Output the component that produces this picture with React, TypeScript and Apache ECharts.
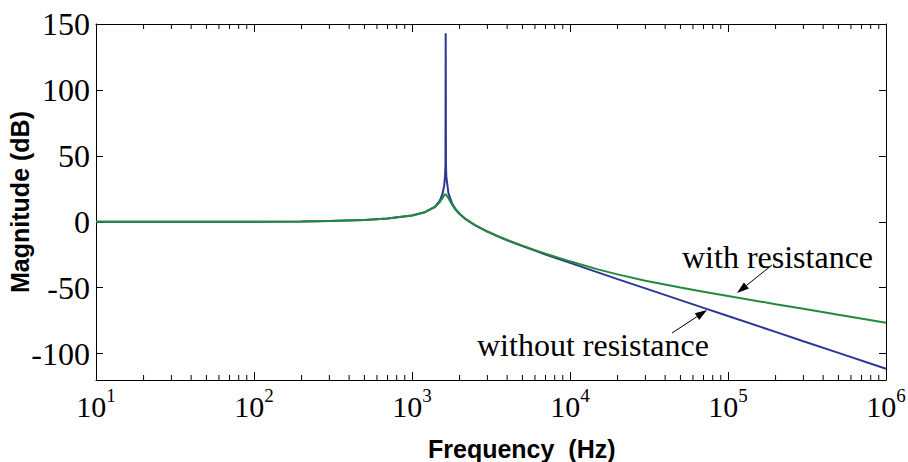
import React, { useEffect, useRef } from "react";
import * as echarts from "echarts";

// Frequency samples (Hz)
const freqs = [
  10, 100, 200, 300, 500, 700, 1000, 1200, 1400, 1500, 1560, 1600, 1620, 1628,
  1634, 1640, 1650, 1700, 1800, 1900, 2000, 2200, 2500, 3000, 3500, 4000, 5000,
  6000, 7000, 10000, 15000, 20000, 30000, 50000, 70000, 100000, 200000, 300000,
  500000, 1000000,
];

// Magnitude without resistance (dB)
const withoutResistance = [
  0, 0.03, 0.13, 0.5, 1.3, 2.4, 4.8, 7.2, 11.5, 16.1, 21.1, 27.7, 35.4, 42.7,
  143, 42.7, 34.1, 21.7, 13.4, 9.1, 6.1, 1.8, -2.6, -7.5, -11.1, -14.0, -18.5,
  -21.9, -24.8, -31.2, -38.4, -43.5, -50.5, -59.4, -65.3, -71.5, -83.5, -90.6,
  -99.4, -111.5,
];

// Magnitude with resistance (dB)
const withResistance = [
  0, 0.03, 0.13, 0.5, 1.3, 2.4, 4.8, 7.1, 11.2, 15.0, 18.1, 20.1, 20.7, 20.8,
  20.8, 20.7, 20.5, 18.0, 12.6, 8.7, 5.9, 1.8, -2.5, -7.4, -11.0, -13.8, -18.1,
  -21.5, -24.2, -30.0, -36.1, -39.9, -44.7, -49.9, -53.1, -56.3, -62.5, -66.0,
  -70.5, -76.5,
];

const yTickValues = [-100, -50, 0, 50, 100, 150];
const decadeStarts = [10, 100, 1000, 10000, 100000];
const minorMultipliers = [2, 3, 4, 5, 6, 7, 8, 9];

const Y_MIN = -120;
const Y_MAX = 150;

const serif = '"Times New Roman", "Liberation Serif", serif';
const sans = 'Arial, "Liberation Sans", sans-serif';

export default function App() {
  const ref = useRef<HTMLDivElement>(null);

  useEffect(() => {
    if (!ref.current) return;
    const chart = echarts.init(ref.current, undefined, { renderer: "svg" });

    const minorTicks: number[][] = [];
    decadeStarts.forEach((d) =>
      minorMultipliers.forEach((m) => minorTicks.push([d * m, Y_MIN]))
    );

    const blueData = freqs.map((f, i) => [f, withoutResistance[i]]);
    const greenData = freqs.map((f, i) => [f, withResistance[i]]);

    const xLabelFormatter = (v: number) =>
      `{b|10}{s|${Math.round(Math.log10(v))}}`;

    const axisLine = { show: true, onZero: false, lineStyle: { color: "#000", width: 1 } };

    const option: any = {
      animation: false,
      backgroundColor: "#fff",
      grid: {
        left: 96,
        right: 22,
        top: 24,
        bottom: 82,
        containLabel: false,
        outerBoundsMode: "none",
      },
      xAxis: [
        {
          type: "log",
          logBase: 10,
          min: 10,
          max: 1000000,
          position: "bottom",
          axisLine,
          splitLine: { show: false },
          axisTick: { inside: true, length: 8, lineStyle: { color: "#000" } },
          axisLabel: {
            margin: 6,
            color: "#000",
            formatter: xLabelFormatter,
            rich: {
              b: {
                fontFamily: serif,
                fontSize: 30,
                lineHeight: 30,
                padding: [11, 0, 0, 0],
                color: "#000",
              },
              s: {
                fontFamily: serif,
                fontSize: 19,
                lineHeight: 19,
                verticalAlign: "top",
                color: "#000",
              },
            },
          },
        },
        {
          type: "log",
          logBase: 10,
          min: 10,
          max: 1000000,
          position: "top",
          axisLine,
          splitLine: { show: false },
          axisTick: { inside: true, length: 8, lineStyle: { color: "#000" } },
          axisLabel: { show: false },
        },
      ],
      yAxis: [
        {
          type: "value",
          min: Y_MIN,
          max: Y_MAX,
          position: "left",
          name: "Magnitude (dB)",
          nameLocation: "middle",
          nameGap: 64,
          nameMoveOverlap: false,
          nameTextStyle: {
            fontFamily: sans,
            fontWeight: "bold",
            fontSize: 25,
            color: "#000",
          },
          axisLine,
          splitLine: { show: false },
          axisTick: {
            show: true,
            inside: true,
            length: 7,
            customValues: yTickValues,
            lineStyle: { color: "#000" },
          },
          axisLabel: {
            customValues: yTickValues,
            margin: 6,
            fontFamily: serif,
            fontSize: 32,
            color: "#000",
          },
        },
        {
          type: "value",
          min: Y_MIN,
          max: Y_MAX,
          position: "right",
          axisLine,
          splitLine: { show: false },
          axisTick: {
            show: true,
            inside: true,
            length: 7,
            customValues: yTickValues,
            lineStyle: { color: "#000" },
          },
          axisLabel: { show: false },
        },
      ],
      series: [
        {
          type: "custom",
          xAxisIndex: 0,
          yAxisIndex: 0,
          silent: true,
          data: minorTicks,
          renderItem: (params: any, api: any) => {
            const p = api.coord([api.value(0), Y_MIN]);
            const cs = params.coordSys;
            const bottom = cs.y + cs.height;
            const top = cs.y;
            return {
              type: "group",
              children: [
                {
                  type: "line",
                  shape: { x1: p[0], y1: bottom, x2: p[0], y2: bottom - 5 },
                  style: { stroke: "#000", lineWidth: 1 },
                },
                {
                  type: "line",
                  shape: { x1: p[0], y1: top, x2: p[0], y2: top + 5 },
                  style: { stroke: "#000", lineWidth: 1 },
                },
              ],
            };
          },
        },
        {
          name: "without resistance",
          type: "line",
          xAxisIndex: 0,
          yAxisIndex: 0,
          data: blueData,
          showSymbol: false,
          lineStyle: { color: "#2d3596", width: 2 },
          z: 3,
        },
        {
          name: "with resistance",
          type: "line",
          xAxisIndex: 0,
          yAxisIndex: 0,
          data: greenData,
          showSymbol: false,
          lineStyle: { color: "#23893c", width: 2 },
          z: 4,
        },
      ],
      graphic: [
        {
          type: "text",
          left: 428,
          top: 436,
          style: {
            text: "Frequency  (Hz)",
            fontFamily: sans,
            fontWeight: "bold",
            fontSize: 25,
            fill: "#000",
          },
        },
        {
          type: "text",
          x: 682,
          y: 257,
          style: {
            text: "with resistance",
            fontFamily: serif,
            fontSize: 32,
            fill: "#000",
            verticalAlign: "middle",
          },
          z: 10,
        },
        {
          type: "text",
          x: 477,
          y: 345,
          style: {
            text: "without resistance",
            fontFamily: serif,
            fontSize: 32,
            fill: "#000",
            verticalAlign: "middle",
          },
          z: 10,
        },
        {
          type: "line",
          shape: { x1: 772, y1: 265, x2: 746.4, y2: 285.5 },
          style: { stroke: "#000", lineWidth: 1 },
          z: 10,
        },
        {
          type: "polygon",
          shape: { points: [[737, 293], [748.9, 288.6], [743.9, 282.4]] },
          style: { fill: "#000" },
          z: 10,
        },
        {
          type: "line",
          shape: { x1: 672, y1: 333, x2: 697, y2: 316.6 },
          style: { stroke: "#000", lineWidth: 1 },
          z: 10,
        },
        {
          type: "polygon",
          shape: { points: [[707, 310], [699.2, 319.9], [694.8, 313.3]] },
          style: { fill: "#000" },
          z: 10,
        },
      ],
    };

    chart.setOption(option);
    return () => chart.dispose();
  }, []);

  return (
    <div
      ref={ref}
      style={{
        position: "fixed",
        left: 0,
        top: 0,
        width: 908,
        height: 462,
        background: "#fff",
      }}
    />
  );
}
